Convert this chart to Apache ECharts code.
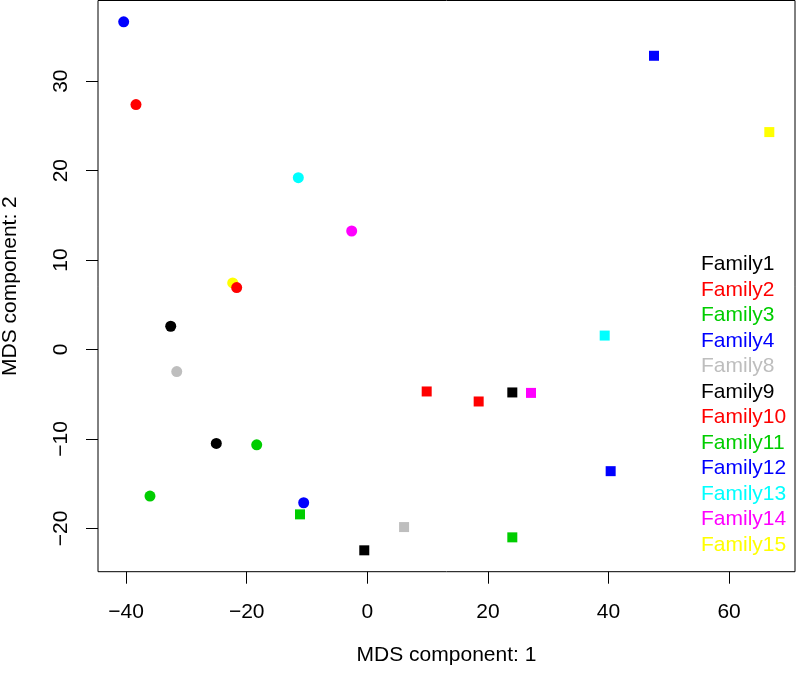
<!DOCTYPE html>
<html>
<head>
<meta charset="utf-8">
<script src="https://cdn.jsdelivr.net/npm/echarts@6/dist/echarts.min.js"></script>
<style>
  html, body { margin: 0; padding: 0; background: #fff; }
  #chart { width: 796px; height: 674px; }
</style>
</head>
<body>
<div id="chart"></div>
<script>
// ---- data ----
const families = ['Family1','Family2','Family3','Family4','Family8','Family9','Family10','Family11','Family12','Family13','Family14','Family15'];
const familyColors = ['#000000','#FF0000','#00CD00','#0000FF','#BEBEBE','#000000','#FF0000','#00CD00','#0000FF','#00FFFF','#FF00FF','#FFFF00'];
// circle marker position [x, y] per family
const circlePoints = [
  [-32.6, 2.6], [-38.36, 27.38], [-36.04, -16.39], [-40.4, 36.64], [-31.6, -2.46],
  [-25.04, -10.5], [-21.66, 6.93], [-18.34, -10.66], [-10.55, -17.13], [-11.44, 19.21],
  [-2.59, 13.25], [-22.32, 7.44]
];
// square marker position [x, y] per family
const squarePoints = [
  [-0.5, -22.45], [9.85, -4.69], [-11.16, -18.43], [47.55, 32.84], [6.1, -19.85],
  [24.05, -4.8], [18.47, -5.81], [24.05, -21.0], [40.36, -13.6], [39.37, 1.56],
  [27.15, -4.85], [66.67, 24.31]
];
const xTicks = [-40, -20, 0, 20, 40, 60];
const yTicks = [-20, -10, 0, 10, 20, 30];

const FONT = '"Liberation Sans", Arial, Helvetica, sans-serif';

const series = families.map((name, i) => ({
  name: name,
  type: 'scatter',
  z: 30 - i,
  data: [
    [circlePoints[i][0], circlePoints[i][1], 'circle'],
    [squarePoints[i][0], squarePoints[i][1], 'rect']
  ],
  symbol: (v) => v[2],
  symbolSize: (v) => v[2] === 'circle' ? 11 : 10,
  itemStyle: { color: familyColors[i], opacity: 1 },
  emphasis: { disabled: true },
  animation: false
}));

const chart = echarts.init(document.getElementById('chart'), null, { renderer: 'canvas' });
chart.setOption({
  backgroundColor: '#ffffff',
  animation: false,
  textStyle: { fontFamily: FONT },
  grid: {
    left: 98, top: 0.5, right: 1, bottom: 102.3,
    outerBoundsMode: 'none',
    containLabel: false,
    show: true, borderColor: '#000', borderWidth: 1, backgroundColor: 'transparent'
  },
  xAxis: {
    type: 'value',
    min: -44.66, max: 70.93,
    splitLine: { show: false },
    axisLine: { show: false, onZero: false },
    axisTick: { show: true, length: 12, inside: false, customValues: xTicks, lineStyle: { color: '#000', width: 1 } },
    axisLabel: { customValues: xTicks, margin: 30, fontSize: 21, color: '#000', fontFamily: FONT,
      formatter: (v) => String(v).replace('-', '\u2212') },
    name: 'MDS component: 1',
    nameLocation: 'middle',
    nameGap: 73,
    nameTextStyle: { fontSize: 21, color: '#000', fontFamily: FONT }
  },
  yAxis: {
    type: 'value',
    min: -24.84, max: 39.02,
    splitLine: { show: false },
    axisLine: { show: false, onZero: false },
    axisTick: { show: true, length: 12, inside: false, customValues: yTicks, lineStyle: { color: '#000', width: 1 } },
    axisLabel: { customValues: yTicks, margin: 26, rotate: 90, fontSize: 21, color: '#000', fontFamily: FONT,
      formatter: (v) => String(v).replace('-', '\u2212') },
    name: 'MDS component: 2',
    nameLocation: 'middle',
    nameGap: 77,
    nameTextStyle: { fontSize: 21, color: '#000', fontFamily: FONT }
  },
  legend: {
    orient: 'vertical',
    left: 696,
    top: 251.5,
    icon: 'none',
    itemWidth: 0,
    itemHeight: 0,
    itemGap: 0,
    selectedMode: false,
    padding: 0,
    data: families.map((name, i) => ({
      name: name,
      icon: 'none',
      textStyle: { color: familyColors[i], fontSize: 21, lineHeight: 25.5, fontFamily: FONT }
    }))
  },
  series: series
});
</script>
</body>
</html>
